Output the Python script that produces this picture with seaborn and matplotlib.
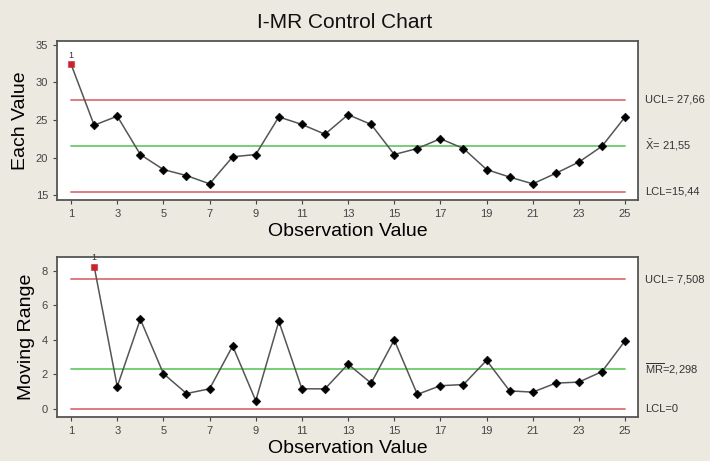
import numpy as np
import pandas as pd
import matplotlib
matplotlib.use("Agg")
import matplotlib.pyplot as plt
import seaborn as sns

# data
obs = list(range(1, 26))
each_value = [32.4, 24.3, 25.5, 20.4, 18.4, 17.6, 16.5, 20.1, 20.4, 25.4,
              24.4, 23.1, 25.7, 24.4, 20.4, 21.2, 22.5, 21.2, 18.4, 17.4,
              16.5, 17.9, 19.4, 21.5, 25.4]
mr_obs = list(range(2, 26))
moving_range = [8.25, 1.3, 5.2, 2.05, 0.9, 1.17, 3.65, 0.48, 5.08, 1.17,
                1.17, 2.6, 1.5, 4.0, 0.85, 1.35, 1.42, 2.82, 1.05, 0.98,
                1.5, 1.56, 2.17, 3.95]
i_limits = [27.66, 21.55, 15.44]
mr_limits = [7.508, 2.298, 0.0]
i_labels = ["UCL= 27,66", "$\\bar{X}$= 21,55", "LCL=15,44"]
mr_labels = ["UCL= 7,508", "$\\overline{MR}$=2,298", "LCL=0"]
out_i = [1]     # out of control points
out_mr = [2]
xticks = list(range(1, 26, 2))

sns.set_style("white")
plt.rcParams['font.family'] = ['Liberation Sans', 'DejaVu Sans']
plt.rcParams['mathtext.fontset'] = 'custom'
plt.rcParams['mathtext.rm'] = 'Liberation Sans'
plt.rcParams['mathtext.it'] = 'Liberation Sans'

bg = "#ECE9E1"
red = "#D9737A"
green = "#6CCB6C"

fig = plt.figure(figsize=(7.1, 4.61), dpi=100, facecolor=bg)
ax1 = fig.add_axes([57 / 710, 1 - 200 / 461, 581 / 710, 159 / 461])
ax2 = fig.add_axes([57 / 710, 1 - 417 / 461, 581 / 710, 160 / 461])

df_i = pd.DataFrame({"obs": obs, "val": each_value})
df_mr = pd.DataFrame({"obs": mr_obs, "val": moving_range})

panels = [
    (ax1, df_i, i_limits, i_labels, out_i, "Each Value", (14.35, 35.5), [15, 20, 25, 30, 35]),
    (ax2, df_mr, mr_limits, mr_labels, out_mr, "Moving Range", (-0.46, 8.8), [0, 2, 4, 6, 8]),
]

for ax, d, lims, labs, outs, ylab, ylim, yticks in panels:
    ax.set_facecolor("white")
    for lv, col in zip(lims, [red, green, red]):
        ax.plot([1, 25], [lv, lv], color=col, lw=1.3, zorder=1)
    sns.lineplot(data=d, x="obs", y="val", ax=ax, color="#555555", lw=1.1, zorder=2)
    ok = d[~d["obs"].isin(outs)]
    bad = d[d["obs"].isin(outs)]
    sns.scatterplot(data=ok, x="obs", y="val", ax=ax, color="black", marker="D",
                    s=20, edgecolor="black", zorder=3)
    sns.scatterplot(data=bad, x="obs", y="val", ax=ax, color="#D0202A", marker="s",
                    s=24, edgecolor="#D0202A", zorder=4)
    for _, r in bad.iterrows():
        ax.text(r["obs"], r["val"] + (ylim[1] - ylim[0]) * 0.03, "1", fontsize=6.5,
                ha="center", va="bottom", color="#333333", clip_on=False)
    for lv, lb in zip(lims, labs):
        ax.text(1.012, lv, lb, transform=ax.get_yaxis_transform(), fontsize=8,
                va="center", ha="left", color="#333333")
    ax.set_xlim(0.39, 25.56)
    ax.set_ylim(*ylim)
    ax.set_xticks(xticks)
    ax.set_yticks(yticks)
    ax.tick_params(axis="both", direction="out", length=3, width=0.8,
                   labelsize=8, colors="#444444", left=True, bottom=True)
    ax.set_xlabel("Observation Value", fontsize=14, color="black", labelpad=3)
    ax.set_ylabel(ylab, fontsize=14, color="black", labelpad=5)
    for sp in ax.spines.values():
        sp.set_visible(True)
        sp.set_color("#555555")
        sp.set_linewidth(1.3)

fig.text(345 / 710, 1 - 22 / 461, "I-MR Control Chart", fontsize=15, ha="center",
         va="center", color="#111111")

fig.savefig("out.png", dpi=100, facecolor=bg)
